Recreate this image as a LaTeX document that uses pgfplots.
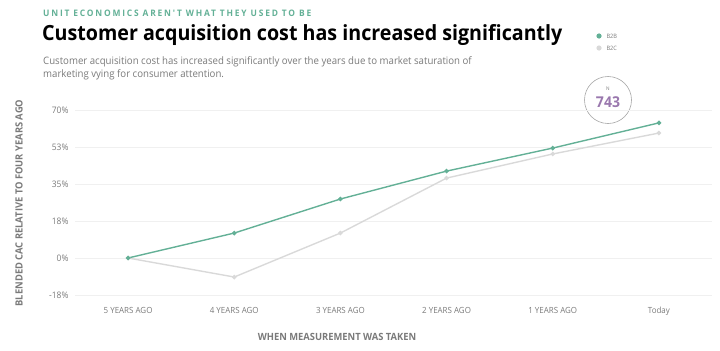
\documentclass[border=0pt]{standalone}
\usepackage{fontspec}
\setmainfont{Open Sans}[FakeStretch=0.94]
\newfontfamily\kicker{Open Sans}[FakeStretch=0.94,LetterSpace=20]
\usepackage{pgfplots}
\pgfplotsset{compat=1.18}
\definecolor{teal}{HTML}{63B096}
\definecolor{lgray}{HTML}{D9D9D9}
\definecolor{tgray}{HTML}{7A7A7A}
\definecolor{gridc}{HTML}{F0F0F0}
\definecolor{purp}{HTML}{9A78AE}
\begin{document}
\begin{tikzpicture}[x=1bp,y=1bp]
\path[use as bounding box] (0,0) rectangle (720,350);
\node[anchor=west,text=teal,font=\kicker\fontsize{9}{10}\selectfont\bfseries,inner sep=0] at (43,337) {UNIT ECONOMICS AREN'T WHAT THEY USED TO BE};
\node[anchor=west,text=black,font=\fontsize{21}{24}\selectfont\bfseries,inner sep=0] at (42,315) {Customer acquisition cost has increased significantly};
\node[anchor=north west,text=tgray,align=left,font=\fontsize{10.3}{13}\selectfont,inner sep=0] at (43,294) {Customer acquisition cost has increased significantly over the years due to market saturation of\\marketing vying for consumer attention.};
\fill[teal] (599,314) circle (2.6);
\node[anchor=west,text=tgray,font=\fontsize{6}{7}\selectfont] at (603,314) {B2B};
\fill[lgray] (599,302) circle (2.6);
\node[anchor=west,text=tgray,font=\fontsize{6}{7}\selectfont] at (603,302) {B2C};
\draw[gray!70,line width=0.6] (608,250) circle (23.5);
\node[text=tgray,font=\fontsize{5}{6}\selectfont] at (608,261) {N};
\node[text=purp,font=\fontsize{15}{16}\selectfont\bfseries] at (608,248) {743};
\node[rotate=90,text=tgray,font=\fontsize{10}{11}\selectfont\bfseries] at (19,147) {BLENDED CAC RELATIVE TO FOUR YEARS AGO};
\node[text=tgray,font=\fontsize{10}{11}\selectfont\bfseries] at (337,13) {WHEN MEASUREMENT WAS TAKEN};
\begin{axis}[
  at={(75bp,55bp)}, anchor=south west,
  width=637bp, height=185bp, scale only axis,
  xmin=-0.5, xmax=5.5, ymin=-17.5, ymax=70,
  axis line style={draw=none},
  tick style={draw=none},
  ymajorgrids, xmajorgrids=false, grid style={draw=gridc, line width=0.8},
  ytick={-17.5,0,17.5,35,52.5,70},
  yticklabels={-18\%,0\%,18\%,35\%,53\%,70\%},
  xtick={0,1,2,3,4,5},
  xticklabels={5 YEARS AGO,4 YEARS AGO,3 YEARS AGO,2 YEARS AGO,1 YEARS AGO,Today},
  /pgf/number format/assume math mode=true,
  xticklabel style={text=tgray,font=\fontsize{8.5}{9}\selectfont,yshift=-9bp},
  yticklabel style={text=tgray,font=\fontsize{9}{10}\selectfont,xshift=-3bp},
  clip=false,
]
\addplot[lgray, line width=1.4, mark=*, mark size=1.5, mark options={fill=lgray,draw=lgray}]
  coordinates {(0,0) (1,-9.0) (2,11.8) (3,37.8) (4,49.2) (5,59.1)};
\addplot[teal, line width=1.4, mark=*, mark size=1.5, mark options={fill=teal,draw=teal}]
  coordinates {(0,0) (1,11.8) (2,27.9) (3,41.1) (4,52.0) (5,63.9)};
\end{axis}
\end{tikzpicture}
\end{document}
